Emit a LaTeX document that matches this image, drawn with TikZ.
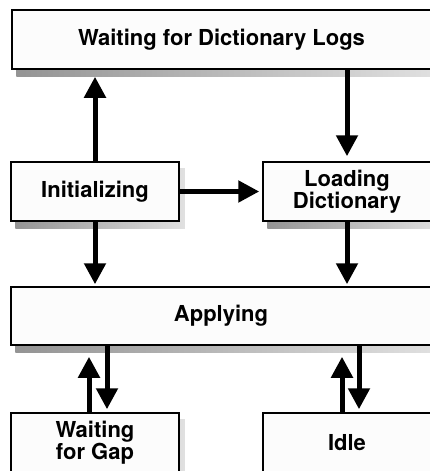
\documentclass[tikz,border=0pt]{standalone}
\usepackage{fontspec}
\setmainfont{TeX Gyre Heros}
\usetikzlibrary{arrows.meta,backgrounds}
\definecolor{boxfill}{HTML}{FCFCFC}
\begin{document}
\begin{tikzpicture}[x=1pt,y=-1pt,
  box/.style={draw=black,line width=1.5pt,fill=boxfill,rectangle,inner sep=0pt,
    font=\fontsize{22}{22.5}\selectfont\bfseries,align=center},
  arr/.style={line width=5pt,-{Triangle[length=21pt,width=21pt]}},
  shadowfill/.style={left color=black!42,right color=black!12}]
\useasboundingbox (0,0) rectangle (429,471);
\node[box,minimum width=419pt,minimum height=59pt] (top) at (221.5,39.5) {Waiting for Dictionary Logs};
\node[box,minimum width=168pt,minimum height=59pt] (init) at (95,191.5) {Initializing};
\node[box,minimum width=168pt,minimum height=59pt] (load) at (347,191.5) {Loading\\Dictionary};
\node[box,minimum width=420pt,minimum height=58pt] (apply) at (221,316) {Applying};
\node[box,minimum width=168pt,minimum height=59pt] (gap) at (95,442.5) {Waiting\\for Gap};
\node[box,minimum width=168pt,minimum height=59pt] (idle) at (347,442.5) {Idle};
\begin{scope}[on background layer]
\foreach \n in {top,init,load,apply,gap,idle}{
  \shade[shadowfill] ([shift={(5pt,-7pt)}]\n.north west) rectangle ([shift={(5pt,-7pt)}]\n.south east);
}
\end{scope}
\draw[arr,shorten >=7pt] (init.north) -- (init.north |- top.south);
\draw[arr,shorten >=5pt] (top.south -| load.north) -- (load.north);
\draw[arr,shorten >=3pt] (init.east) -- (load.west);
\draw[arr,shorten >=2pt] (init.south) -- (init.south |- apply.north);
\draw[arr,shorten >=2pt] (load.south) -- (load.south |- apply.north);
\draw[arr,shorten >=11pt] ([xshift=-6pt]gap.north) -- ([xshift=-6pt]gap.north |- apply.south);
\draw[arr,shorten >=3pt] ([xshift=12pt]gap.north |- apply.south) -- ([xshift=12pt]gap.north);
\draw[arr,shorten >=11pt] ([xshift=-5pt]idle.north) -- ([xshift=-5pt]idle.north |- apply.south);
\draw[arr,shorten >=3pt] ([xshift=12pt]idle.north |- apply.south) -- ([xshift=12pt]idle.north);
\end{tikzpicture}
\end{document}
